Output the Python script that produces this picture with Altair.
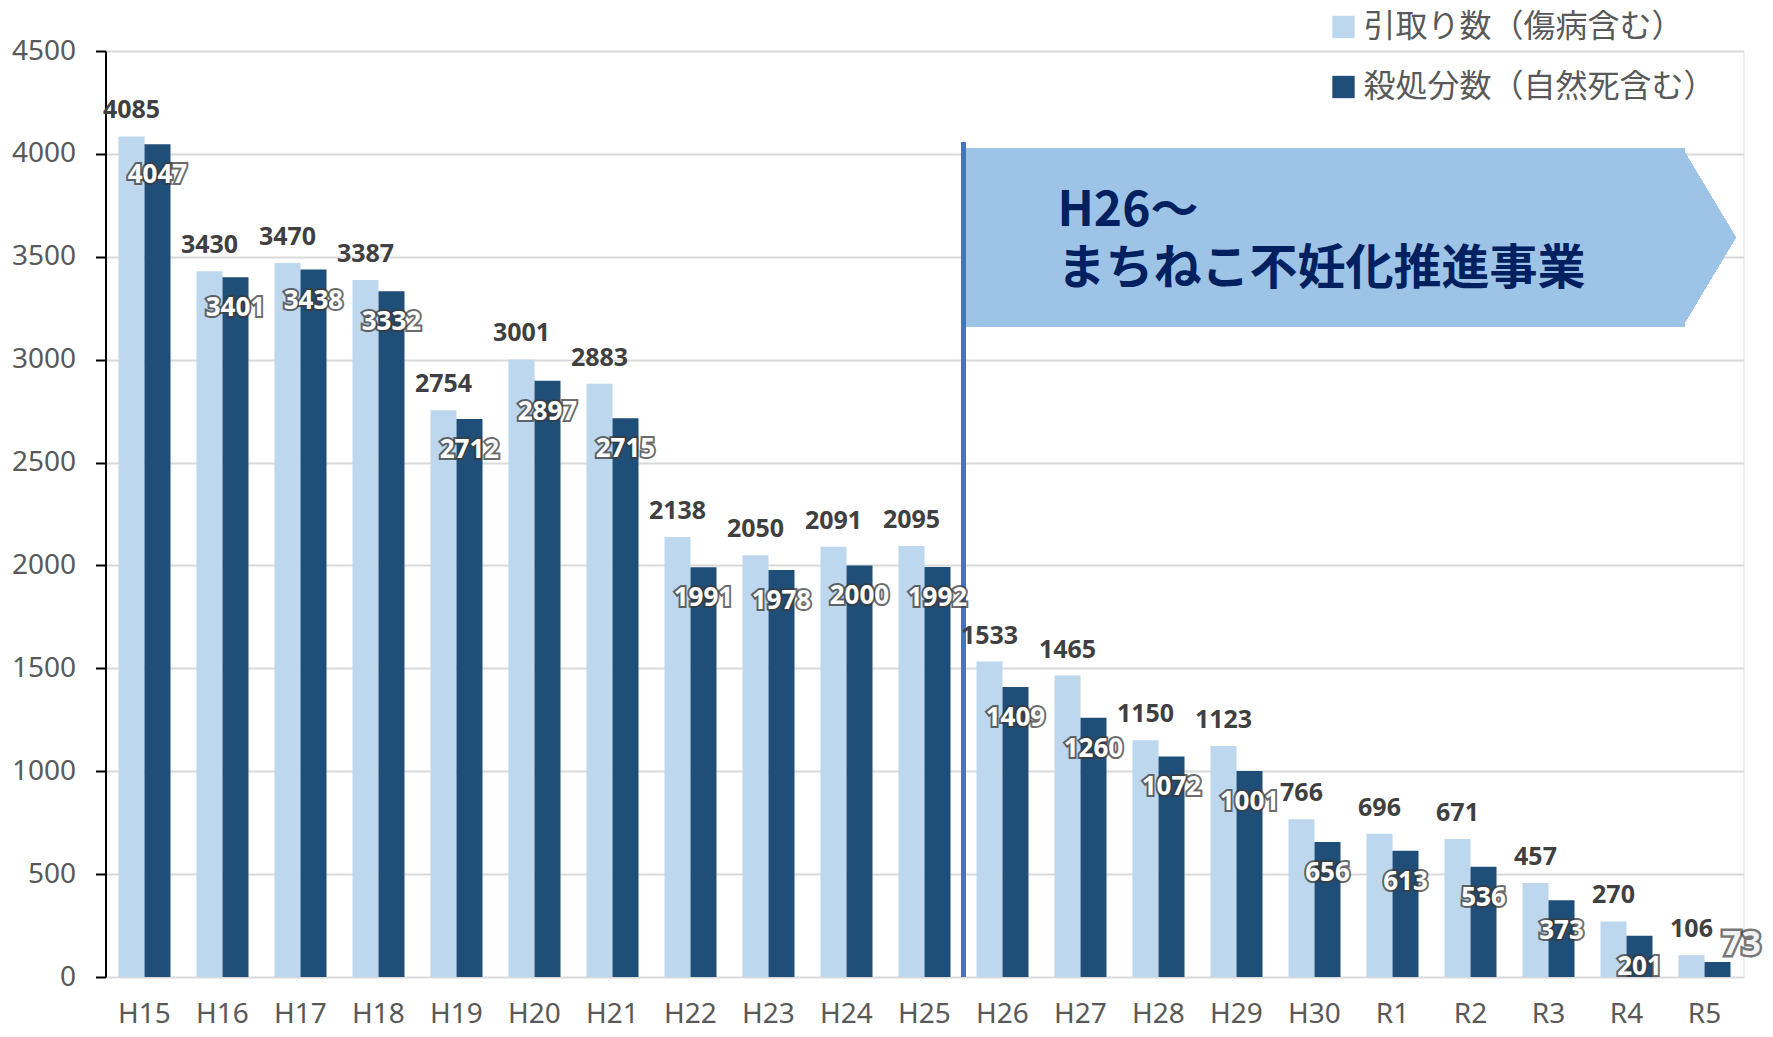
import altair as alt
import pandas as pd

categories = ["H15", "H16", "H17", "H18", "H19", "H20", "H21", "H22", "H23", "H24", "H25",
              "H26", "H27", "H28", "H29", "H30", "R1", "R2", "R3", "R4", "R5"]
hikitori = [4085, 3430, 3470, 3387, 2754, 3001, 2883, 2138, 2050, 2091, 2095,
            1533, 1465, 1150, 1123, 766, 696, 671, 457, 270, 106]
satsusho = [4047, 3401, 3438, 3332, 2712, 2897, 2715, 1991, 1978, 2000, 1992,
            1409, 1260, 1072, 1001, 656, 613, 536, 373, 201, 73]
series_names = ["引取り数（傷病含む）", "殺処分数（自然死含む）"]
series_colors = ["#BDD7EE", "#1F4E79"]
y_ticks = [0, 500, 1000, 1500, 2000, 2500, 3000, 3500, 4000, 4500]

banner_lines = ["H26～", "まちねこ不妊化推進事業"]
banner_line_y = [3718, 3437]
banner_top, banner_bottom, banner_mid = 4029, 3159, 3594
rule_top = 4054

rows = []
for c, a, b in zip(categories, hikitori, satsusho):
    rows.append({"cat": c, "series": series_names[0], "value": a})
    rows.append({"cat": c, "series": series_names[1], "value": b})
df = pd.DataFrame(rows)
banner_df = pd.DataFrame({"line": banner_lines, "y": banner_line_y})

xscale = alt.Scale(domain=categories, paddingInner=1/3, paddingOuter=1/6)
yscale = alt.Scale(domain=[0, 4500], nice=False)
x_enc = alt.X("cat:N", sort=categories, scale=xscale, title=None,
              axis=alt.Axis(domain=False, ticks=False, tickSize=0, labelAngle=0,
                            bandPosition=0.5, labelAlign="center",
                            labelFont="Noto Sans", labelFontSize=28, labelColor="#595959",
                            labelPadding=37, grid=False))
y_enc = alt.Y("value:Q", scale=yscale, title=None,
              axis=alt.Axis(values=y_ticks, format="d", domain=True, domainColor="#000000",
                            domainWidth=2, ticks=True, tickColor="#000000", tickWidth=2,
                            tickSize=10, labelFont="Noto Sans", labelFontSize=28,
                            labelColor="#595959", labelPadding=20, grid=True,
                            gridColor="#D9D9D9", gridWidth=2))
xo_enc = alt.XOffset("series:N", sort=series_names, scale=alt.Scale(domain=series_names))

base = alt.Chart(df)

bars = base.mark_bar().encode(
    x=x_enc, y=y_enc, xOffset=xo_enc,
    color=alt.Color("series:N", scale=alt.Scale(domain=series_names, range=series_colors),
                    legend=alt.Legend(title=None, orient="none", legendX=1222, legendY=-40,
                                      direction="vertical", symbolType="square", symbolSize=500,
                                      symbolStrokeWidth=0, symbolOpacity=1,
                                      labelFont="Noto Sans CJK JP", labelFontSize=32,
                                      labelColor="#595959", rowPadding=28, labelOffset=4,
                                      padding=0, labelLimit=800)),
)

rule = alt.Chart(df).mark_rule(color="#4472C4", strokeWidth=4, xOffset=-13).encode(
    x=alt.XDatum("H26", bandPosition=0),
    y=alt.YDatum(0), y2=alt.Y2Datum(rule_top),
)

arrow_body = alt.Chart(df).mark_rect(color="#9DC3E6", strokeWidth=0, xOffset=-10, x2Offset=0).encode(
    x=alt.XDatum("H26", bandPosition=0),
    x2=alt.X2Datum("R5", bandPosition=0.11),
    y=alt.YDatum(banner_top), y2=alt.Y2Datum(banner_bottom),
)
arrow_head = alt.Chart(df).mark_point(
    shape="M-0.02,-1L0.58,0L-0.02,1Z", filled=True, color="#9DC3E6", opacity=1,
    strokeWidth=0, size=179 * 179,
).encode(
    x=alt.XDatum("R5", bandPosition=0.1),
    y=alt.YDatum(banner_mid),
)

banner_text = alt.Chart(banner_df).mark_text(
    align="left", baseline="middle", font="Noto Sans CJK JP", fontWeight="bold",
    fontSize=48, color="#002060", dx=3,
).encode(
    x=alt.XDatum("H27", bandPosition=0),
    y=alt.Y("y:Q", scale=yscale),
    text="line:N",
)

light_labels = base.transform_filter(alt.datum.series == series_names[0]).mark_text(
    baseline="middle", font="Noto Sans", fontWeight="bold", fontSize=25,
    color="#404040", dy=-26,
).encode(x=x_enc, y=y_enc, xOffset=xo_enc, text="value:Q")

dark_base = base.transform_filter(
    (alt.datum.series == series_names[1]) & (alt.datum.cat != "R5"))
dark_outline = dark_base.mark_text(
    baseline="middle", font="Noto Sans", fontWeight="bold", fontSize=26,
    color="#FFFFFF", stroke="#3A3A3A", strokeWidth=4, strokeOpacity=0.75, dy=31,
).encode(x=x_enc, y=y_enc, xOffset=xo_enc, text="value:Q")
dark_labels = dark_base.mark_text(
    baseline="middle", font="Noto Sans", fontWeight="bold", fontSize=26,
    color="#FFFFFF", dy=31,
).encode(x=x_enc, y=y_enc, xOffset=xo_enc, text="value:Q")

last_base = base.transform_filter(
    (alt.datum.series == series_names[1]) & (alt.datum.cat == "R5"))
last_outline = last_base.mark_text(
    baseline="middle", font="Noto Sans", fontWeight="bold", fontSize=34,
    color="#FFFFFF", stroke="#3A3A3A", strokeWidth=5, strokeOpacity=0.7, dx=24, dy=-17,
).encode(x=x_enc, y=y_enc, xOffset=xo_enc, text="value:Q")
last_label = last_base.mark_text(
    baseline="middle", font="Noto Sans", fontWeight="bold", fontSize=34,
    color="#F2F2F2", dx=24, dy=-17,
).encode(x=x_enc, y=y_enc, xOffset=xo_enc, text="value:Q")

chart = alt.layer(
    arrow_body, arrow_head, bars, rule, banner_text, light_labels,
    dark_outline, dark_labels, last_outline, last_label,
).properties(
    width=1638, height=926,
    autosize=alt.AutoSizeParams(type="none"),
    padding={"left": 97.5, "top": 43, "right": 20, "bottom": 52},
).configure_view(stroke=None).configure(background="#FFFFFF")

chart.save("out.html", embed_options={"renderer": "svg", "actions": False})
